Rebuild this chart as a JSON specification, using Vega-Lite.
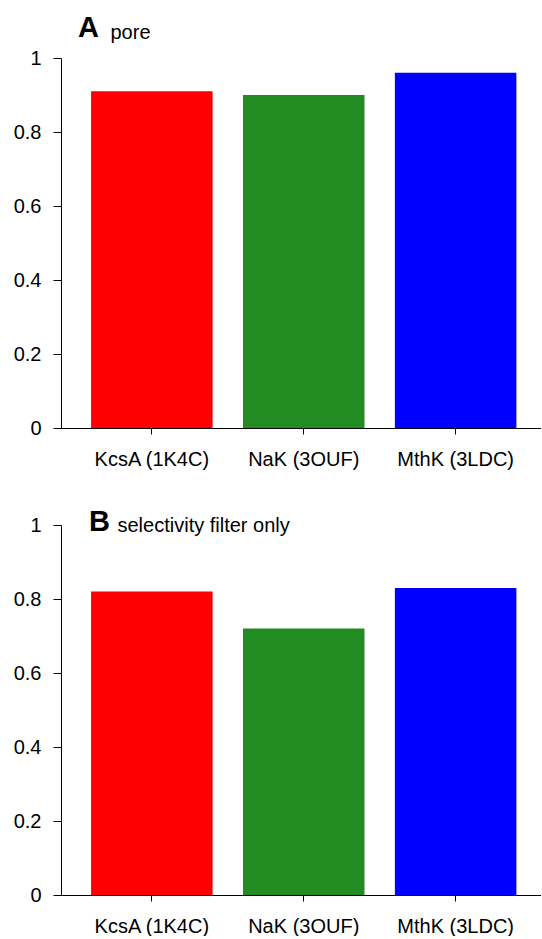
{
  "$schema": "https://vega.github.io/schema/vega-lite/v6.json",
  "padding": {"left": 13, "right": 0, "top": 14, "bottom": 0},
  "autosize": {"type": "pad"},
  "background": "white",
  "datasets": {
    "pore": [
      {"channel": "KcsA (1K4C)", "value": 0.91},
      {"channel": "NaK (3OUF)", "value": 0.90},
      {"channel": "MthK (3LDC)", "value": 0.96}
    ],
    "sf": [
      {"channel": "KcsA (1K4C)", "value": 0.82},
      {"channel": "NaK (3OUF)", "value": 0.72},
      {"channel": "MthK (3LDC)", "value": 0.83}
    ]
  },
  "config": {
    "view": {"stroke": null},
    "font": "Liberation Sans",
    "axis": {
      "grid": false,
      "domainColor": "#000000",
      "tickColor": "#000000",
      "labelColor": "#000000",
      "labelFont": "Liberation Sans",
      "labelFontSize": 20,
      "titleFont": "Liberation Sans",
      "titleColor": "#000000"
    },
    "title": {"font": "Liberation Sans", "color": "#000000"}
  },
  "spacing": 39,
  "vconcat": [
    {
      "data": {"name": "pore"},
      "width": 480,
      "height": 370,
      "title": {"text": "A", "fontSize": 29, "fontWeight": "bold", "anchor": "start", "frame": "group", "dx": 17, "offset": -21},
      "mark": "bar",
      "encoding": {
        "x": {
          "field": "channel", "type": "nominal", "sort": null,
          "scale": {"paddingInner": 0.2, "paddingOuter": 0.18, "align": 0.55},
          "axis": {"title": null, "labelAngle": 0, "tickSize": 6, "labelPadding": 15}
        },
        "y": {
          "field": "value", "type": "quantitative",
          "scale": {"domain": [0, 1], "nice": false},
          "axis": {
            "values": [0, 0.2, 0.4, 0.6, 0.8, 1], "format": "~g", "tickSize": 8, "labelPadding": 12,
            "title": "pore", "titleAngle": 0, "titleAlign": "left", "titleBaseline": "alphabetic",
            "titleFontWeight": "normal", "titleFontSize": 20, "titleX": 49, "titleY": -20
          }
        },
        "color": {
          "field": "channel", "type": "nominal",
          "scale": {"domain": ["KcsA (1K4C)", "NaK (3OUF)", "MthK (3LDC)"], "range": ["#ff0000", "#228b22", "#0000ff"]},
          "legend": null
        }
      }
    },
    {
      "data": {"name": "sf"},
      "width": 480,
      "height": 370,
      "title": {"text": "B", "fontSize": 29, "fontWeight": "bold", "anchor": "start", "frame": "group", "dx": 28, "offset": -22},
      "mark": "bar",
      "encoding": {
        "x": {
          "field": "channel", "type": "nominal", "sort": null,
          "scale": {"paddingInner": 0.2, "paddingOuter": 0.18, "align": 0.55},
          "axis": {"title": null, "labelAngle": 0, "tickSize": 6, "labelPadding": 15}
        },
        "y": {
          "field": "value", "type": "quantitative",
          "scale": {"domain": [0, 1], "nice": false},
          "axis": {
            "values": [0, 0.2, 0.4, 0.6, 0.8, 1], "format": "~g", "tickSize": 8, "labelPadding": 12,
            "title": "selectivity filter only", "titleAngle": 0, "titleAlign": "left", "titleBaseline": "alphabetic",
            "titleFontWeight": "normal", "titleFontSize": 20, "titleX": 56, "titleY": 6
          }
        },
        "color": {
          "field": "channel", "type": "nominal",
          "scale": {"domain": ["KcsA (1K4C)", "NaK (3OUF)", "MthK (3LDC)"], "range": ["#ff0000", "#228b22", "#0000ff"]},
          "legend": null
        }
      }
    }
  ]
}
